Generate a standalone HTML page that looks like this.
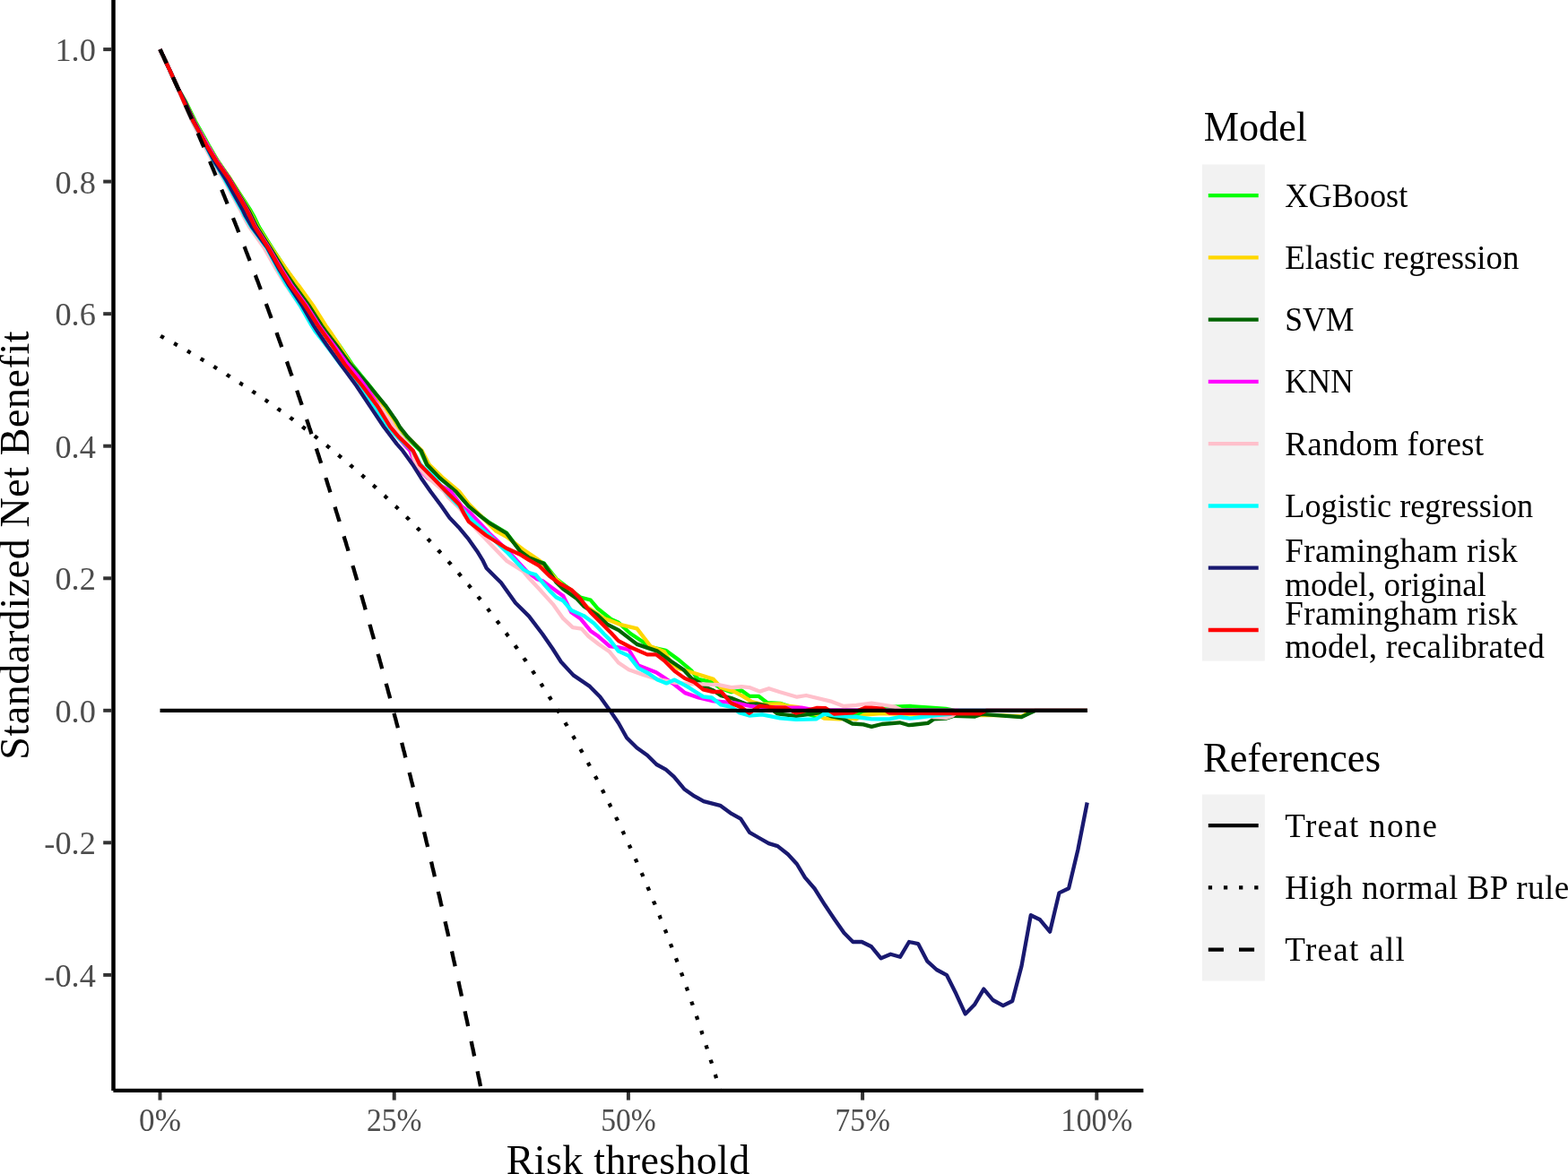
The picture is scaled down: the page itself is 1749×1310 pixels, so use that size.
<!DOCTYPE html>
<html><head><meta charset="utf-8"><title>Decision curve</title><style>html,body{margin:0;padding:0;background:#fff;overflow:hidden;}svg{display:block;}</style></head><body>
<svg width="1749" height="1310" viewBox="0 0 1749 1310">
<rect x="0" y="0" width="1749" height="1310" fill="#FFFFFF"/>
<defs><clipPath id="pc"><rect x="126.4" y="0" width="1149.0" height="1216.9"/></clipPath></defs>
<g clip-path="url(#pc)" fill="none" stroke-linejoin="round" stroke-linecap="butt">
<polyline points="178.5,55.1 188.9,77.4 199.4,100.3 207.5,114.0 207.5,114.1 217.9,135.5 228.9,155.0 232.7,162.1 243.3,180.0 256.7,199.5 257.6,201.0 267.7,216.6 279.6,235.0 283.0,241.0 288.7,253.0 303.4,276.6 303.6,277.0 319.5,301.1 331.1,317.5 333.1,320.0 348.0,340.5 362.7,363.4 367.4,370.0 379.0,386.3 392.7,406.5 403.6,420.0 412.3,430.5 429.9,453.4 440.4,470.0 444.1,476.3 453.5,487.6 468.9,502.9 475.9,518.2 487.3,530.0 490.7,533.4 508.7,548.2 522.7,564.3 537.7,576.9 545.8,583.1 564.9,594.5 572.5,604.5 580.2,614.4 590.0,621.7 606.8,628.6 620.5,645.9 647.3,666.5 658.7,669.5 666.3,678.7 681.6,690.9 690.0,694.7 702.9,706.7 725.8,722.0 742.6,725.8 756.3,735.7 771.6,748.7 778.6,757.9 792.9,760.8 804.3,768.2 815.8,772.2 827.2,770.5 835.8,776.8 846.1,776.8 855.9,784.2 870.1,784.8 880.0,788.0 895.0,795.0 907.9,798.9 920.0,797.0 940.0,796.0 956.5,797.2 975.0,794.0 985.0,790.0 997.9,788.6 1015.0,788.0 1037.9,789.7 1055.0,790.9 1065.0,792.8 1212.7,792.8" stroke="#00FF00" stroke-width="4.3"/>
<polyline points="178.5,55.1 188.9,77.4 199.4,100.3 206.9,114.0 206.9,114.1 217.0,135.5 227.8,155.0 231.8,162.1 242.8,180.0 256.7,199.5 257.6,201.0 267.0,216.6 278.1,235.0 281.2,241.0 287.2,253.0 302.7,276.6 302.9,277.0 319.8,301.1 332.0,317.5 334.1,320.0 348.9,340.5 363.4,363.4 368.1,370.0 378.8,386.3 391.3,406.5 401.5,420.0 410.5,430.5 428.9,453.4 440.0,470.0 444.2,476.3 454.2,487.6 470.6,502.9 478.6,518.2 490.8,530.0 494.2,533.4 512.5,548.7 522.9,562.2 553.4,592.7 564.9,598.9 584.0,613.4 590.0,617.6 601.5,625.3 620.0,646.0 640.0,664.0 654.9,677.2 674.0,690.2 680.0,692.2 691.5,696.8 710.5,701.4 725.8,721.2 741.1,727.3 748.7,739.5 756.3,745.6 771.6,750.2 781.4,753.3 795.8,757.9 804.3,767.1 818.7,771.6 827.2,776.2 838.7,783.1 850.1,786.0 870.1,785.4 876.4,787.4 890.7,789.2 910.7,797.2 919.3,801.7 936.5,802.3 947.9,801.7 955.0,802.3 963.6,797.7 983.6,796.0 1012.2,797.2 1045.0,797.5 1096.0,798.1 1113.6,798.1 1140.0,799.5 1150.0,792.8 1212.7,792.8" stroke="#FFD700" stroke-width="4.3"/>
<polyline points="178.5,55.1 188.9,77.4 199.4,100.3 206.4,114.0 206.4,114.1 216.5,135.5 227.3,155.0 231.3,162.1 242.3,180.0 256.2,199.5 257.1,201.0 266.4,216.6 277.4,235.0 280.4,241.0 286.3,253.0 301.4,276.6 301.6,277.0 316.5,301.1 327.4,317.5 329.3,320.0 344.2,340.5 358.8,363.4 363.5,370.0 376.0,386.3 390.7,406.5 402.4,420.0 411.7,430.5 430.7,453.4 442.2,470.0 445.8,476.3 454.7,487.6 469.7,502.9 476.2,518.2 487.3,530.0 490.7,533.4 508.7,548.7 522.7,564.8 537.7,577.4 545.8,583.6 564.9,595.0 572.5,605.0 580.2,614.9 590.0,622.2 606.8,629.1 620.5,649.7 628.2,657.3 643.4,668.0 651.1,676.4 666.3,686.3 677.8,697.0 690.0,703.1 710.5,718.9 733.4,726.6 748.7,738.0 762.4,747.2 771.6,757.1 778.6,760.8 787.2,767.1 795.8,770.5 804.3,776.2 815.8,779.1 833.0,786.0 844.4,785.4 855.9,787.7 867.0,796.3 887.9,798.9 905.0,796.6 916.5,794.9 927.9,799.5 939.3,801.7 950.8,807.5 963.0,808.4 972.2,810.9 983.6,808.0 1003.6,806.3 1013.9,809.2 1035.0,806.9 1041.9,802.3 1055.0,801.7 1064.2,798.8 1087.5,799.5 1095.1,796.8 1139.0,800.2 1147.9,796.1 1155.0,792.8 1212.7,792.8" stroke="#006400" stroke-width="4.3"/>
<polyline points="178.5,55.1 188.9,77.4 199.4,100.3 205.9,114.0 205.9,114.1 216.4,135.5 227.5,155.0 231.4,162.1 242.1,180.0 255.7,199.5 256.6,201.0 265.5,216.6 276.0,235.0 278.9,241.0 284.8,253.0 300.0,276.6 300.2,277.0 314.4,301.1 324.8,317.5 326.6,320.0 341.5,340.5 356.1,363.4 360.8,370.0 373.2,386.3 387.8,406.5 399.3,420.0 407.2,430.5 423.1,453.4 432.4,470.0 435.5,476.3 443.6,487.6 454.7,500.0 457.4,502.9 462.9,518.2 468.9,525.0 473.8,530.0 477.2,533.4 503.0,548.7 515.3,565.3 524.4,572.1 545.8,595.0 564.9,613.0 587.8,637.8 599.2,646.2 605.3,648.2 628.2,665.0 637.3,683.3 647.3,690.2 658.7,703.9 666.3,709.2 680.0,721.2 691.5,722.7 701.4,725.0 712.1,742.6 731.9,750.2 741.1,756.3 752.5,764.0 764.0,773.1 779.2,778.5 794.0,782.0 805.5,783.1 818.7,784.2 835.8,787.7 841.6,788.5 876.0,789.7 894.0,789.7 910.0,792.5 1212.7,792.8" stroke="#FF00FF" stroke-width="4.3"/>
<polyline points="178.5,55.1 188.9,77.4 199.4,100.3 204.9,114.0 204.9,114.1 214.2,135.5 224.3,155.0 227.7,162.1 237.1,180.0 249.3,199.5 250.1,201.0 258.6,216.6 268.6,235.0 271.4,241.0 278.0,253.0 294.6,276.6 294.8,277.0 308.5,301.1 318.6,317.5 320.4,320.0 334.4,340.5 348.0,363.4 352.4,370.0 365.3,386.3 380.5,406.5 392.5,420.0 402.3,430.5 414.9,445.0 422.7,453.4 435.8,470.0 439.1,476.3 447.6,487.6 454.5,495.0 460.1,502.9 461.1,510.0 464.2,518.2 474.6,530.0 478.0,533.4 495.7,548.7 500.0,555.0 511.5,566.0 530.5,589.7 545.8,605.7 564.9,625.6 584.0,637.8 590.0,645.0 601.5,657.3 616.7,674.1 628.2,690.2 638.9,700.1 648.8,701.6 656.4,710.0 668.0,719.0 680.0,727.3 689.9,739.5 701.4,747.2 718.2,753.3 733.4,757.9 752.5,761.7 771.6,763.2 787.2,763.6 801.5,764.2 815.8,767.1 827.2,766.2 835.8,767.1 847.3,771.6 857.6,768.2 870.1,772.3 889.0,777.7 899.3,776.0 927.9,782.9 941.0,788.0 955.0,786.9 972.2,784.6 997.9,788.6 1005.0,792.0 1030.0,797.0 1040.8,800.0 1055.3,800.9 1062.2,798.8 1070.0,792.8 1212.7,792.8" stroke="#FFC0CB" stroke-width="4.3"/>
<polyline points="178.5,55.1 188.9,77.4 199.4,100.3 205.4,114.0 205.4,114.1 215.2,135.5 225.8,155.0 229.1,162.1 238.4,180.0 250.3,199.5 251.1,201.0 259.8,216.6 270.1,235.0 272.9,241.0 280.0,253.0 297.7,276.6 297.9,277.0 310.4,301.1 319.5,317.5 321.2,320.0 334.6,340.5 347.7,363.4 351.9,370.0 364.6,386.3 379.7,406.5 391.5,420.0 400.2,430.5 417.9,453.4 428.4,470.0 432.8,476.3 443.3,487.6 460.3,502.9 469.0,518.2 481.6,530.0 485.0,533.4 500.0,552.0 519.1,572.1 526.7,580.5 545.8,597.3 564.9,615.6 584.0,635.5 590.0,639.0 597.6,641.3 612.9,658.9 620.5,666.5 628.2,670.3 637.3,681.0 651.1,687.1 662.5,695.5 674.0,707.7 680.0,713.6 689.9,726.6 701.4,731.9 712.1,745.6 722.7,751.0 733.4,758.6 743.4,762.4 752.5,758.6 764.0,764.7 770.0,768.2 784.3,777.4 794.0,778.5 804.3,786.5 815.8,788.8 824.4,795.1 835.8,798.5 850.1,797.4 870.1,801.4 887.9,802.9 910.7,802.3 919.3,796.6 930.7,798.3 945.0,799.5 955.0,800.0 972.2,802.3 992.2,802.3 1003.6,800.0 1015.0,801.7 1029.3,800.0 1045.0,798.1 1060.0,796.8 1070.0,792.8 1212.7,792.8" stroke="#00FFFF" stroke-width="4.3"/>
<polyline points="178.5,55.1 188.9,77.4 199.4,100.3 206.6,114.0 206.6,114.1 216.1,135.5 226.3,155.0 229.7,162.1 239.2,180.0 251.5,199.5 252.3,201.0 261.0,216.6 271.2,235.0 274.0,241.0 281.0,253.0 298.3,276.6 298.5,277.0 311.8,301.1 321.6,317.5 323.3,320.0 336.8,340.5 350.0,363.4 354.3,370.0 365.4,386.3 380.0,406.5 397.6,430.5 412.8,453.4 428.1,476.3 442.6,495.4 449.2,502.9 460.2,518.2 469.8,533.4 480.5,548.7 491.9,564.0 501.5,577.7 511.5,588.2 522.9,601.9 532.1,614.9 538.2,624.8 542.7,634.0 553.4,644.7 558.8,650.0 575.0,672.7 590.0,687.6 605.3,707.7 616.2,723.5 625.8,738.5 639.5,753.4 657.9,765.9 669.3,777.4 680.8,793.4 690.0,807.0 699.1,823.2 710.5,834.6 722.0,842.7 732.3,853.0 742.6,858.7 751.7,866.7 763.2,880.4 774.6,888.4 784.9,894.2 803.3,898.8 815.9,907.9 826.2,913.6 836.1,928.9 846.8,935.0 857.5,941.1 867.4,944.1 878.9,953.3 888.8,964.0 897.9,979.2 908.6,991.5 920.1,1009.8 930.8,1025.8 941.5,1041.1 951.4,1051.0 961.3,1051.0 972.0,1056.3 982.7,1069.3 993.4,1064.7 1004.0,1067.8 1014.0,1051.0 1024.1,1053.1 1034.4,1072.7 1044.7,1082.0 1056.1,1088.2 1066.4,1108.8 1076.7,1131.4 1087.0,1121.1 1097.3,1103.6 1107.6,1116.0 1118.9,1122.2 1129.2,1117.0 1139.5,1077.9 1149.8,1021.2 1160.1,1026.3 1171.1,1039.7 1181.4,996.4 1192.1,991.3 1202.4,948.0 1212.7,895.5" stroke="#191970" stroke-width="4.3"/>
<polyline points="178.5,55.1 188.9,77.4 199.4,100.3 205.4,114.1 215.5,135.5 230.3,162.1 241.3,180.0 255.2,199.5 265.0,216.6 275.5,235.0 284.2,253.0 299.2,276.6 313.2,301.1 323.3,317.5 340.0,340.5 354.7,363.4 371.0,386.3 384.6,406.5 404.0,430.5 421.2,453.4 435.3,476.3 444.9,487.6 460.7,502.9 468.1,518.2 483.2,533.4 497.9,548.7 512.4,563.1 518.3,574.4 522.9,582.1 542.0,597.3 564.9,611.8 580.2,618.7 590.0,624.9 601.5,631.4 612.9,642.8 624.4,651.2 637.3,658.1 647.3,668.0 658.7,683.3 670.2,694.7 681.6,706.2 689.9,715.1 702.9,722.0 722.0,730.4 731.9,730.4 741.1,737.3 752.5,748.7 764.0,757.1 773.9,760.9 784.3,769.3 795.8,772.2 804.3,771.6 815.8,784.8 827.2,789.4 835.8,795.7 847.3,787.7 865.0,789.7 876.0,789.7 887.9,795.7 899.0,793.0 910.7,790.0 921.0,790.2 930.7,796.6 950.8,795.4 965.0,789.7 972.2,789.7 985.0,791.0 992.2,795.7 1045.0,796.1 1093.0,796.4 1100.0,792.8 1212.7,792.8" stroke="#FF0000" stroke-width="4.3"/>
<line x1="178.5" y1="792.8" x2="1212.9" y2="792.8" stroke="#000" stroke-width="4.3"/>
<polyline points="178.5,374.5 179.0,374.8 179.5,375.1 180.1,375.4 180.6,375.7 181.1,375.9 181.6,376.2 182.2,376.5 182.7,376.8 183.2,377.1 183.7,377.4 184.2,377.7 184.8,377.9 185.3,378.2 185.8,378.5 186.3,378.8 186.9,379.1 187.4,379.4 187.9,379.7 188.4,380.0 188.9,380.2 189.5,380.5 190.0,380.8 190.5,381.1 191.0,381.4 191.6,381.7 192.1,382.0 192.6,382.3 193.1,382.6 193.6,382.9 194.2,383.2 194.7,383.4 195.2,383.7 195.7,384.0 196.3,384.3 196.8,384.6 197.3,384.9 197.8,385.2 198.4,385.5 198.9,385.8 199.4,386.1 199.9,386.4 200.4,386.7 201.0,387.0 201.5,387.3 202.0,387.6 202.5,387.9 203.1,388.2 203.6,388.5 204.1,388.8 204.6,389.1 205.1,389.3 205.7,389.6 206.2,389.9 206.7,390.2 207.2,390.5 207.8,390.8 208.3,391.1 208.8,391.4 209.3,391.7 209.8,392.0 210.4,392.3 210.9,392.6 211.4,393.0 211.9,393.3 212.5,393.6 213.0,393.9 213.5,394.2 214.0,394.5 214.5,394.8 215.1,395.1 215.6,395.4 216.1,395.7 216.6,396.0 217.2,396.3 217.7,396.6 218.2,396.9 218.7,397.2 219.2,397.5 219.8,397.8 220.3,398.1 220.8,398.4 221.3,398.7 221.9,399.1 222.4,399.4 222.9,399.7 223.4,400.0 223.9,400.3 224.5,400.6 225.0,400.9 225.5,401.2 226.0,401.5 226.6,401.8 227.1,402.2 227.6,402.5 228.1,402.8 228.7,403.1 229.2,403.4 229.7,403.7 230.2,404.0 230.7,404.3 231.3,404.7 231.8,405.0 232.3,405.3 232.8,405.6 233.4,405.9 233.9,406.2 234.4,406.5 234.9,406.9 235.4,407.2 236.0,407.5 236.5,407.8 237.0,408.1 237.5,408.5 238.1,408.8 238.6,409.1 239.1,409.4 239.6,409.7 240.1,410.0 240.7,410.4 241.2,410.7 241.7,411.0 242.2,411.3 242.8,411.7 243.3,412.0 243.8,412.3 244.3,412.6 244.8,412.9 245.4,413.3 245.9,413.6 246.4,413.9 246.9,414.2 247.5,414.6 248.0,414.9 248.5,415.2 249.0,415.5 249.5,415.9 250.1,416.2 250.6,416.5 251.1,416.8 251.6,417.2 252.2,417.5 252.7,417.8 253.2,418.2 253.7,418.5 254.2,418.8 254.8,419.1 255.3,419.5 255.8,419.8 256.3,420.1 256.9,420.5 257.4,420.8 257.9,421.1 258.4,421.5 258.9,421.8 259.5,422.1 260.0,422.5 260.5,422.8 261.0,423.1 261.6,423.5 262.1,423.8 262.6,424.1 263.1,424.5 263.7,424.8 264.2,425.1 264.7,425.5 265.2,425.8 265.7,426.1 266.3,426.5 266.8,426.8 267.3,427.2 267.8,427.5 268.4,427.8 268.9,428.2 269.4,428.5 269.9,428.9 270.4,429.2 271.0,429.5 271.5,429.9 272.0,430.2 272.5,430.6 273.1,430.9 273.6,431.2 274.1,431.6 274.6,431.9 275.1,432.3 275.7,432.6 276.2,433.0 276.7,433.3 277.2,433.7 277.8,434.0 278.3,434.3 278.8,434.7 279.3,435.0 279.8,435.4 280.4,435.7 280.9,436.1 281.4,436.4 281.9,436.8 282.5,437.1 283.0,437.5 283.5,437.8 284.0,438.2 284.5,438.5 285.1,438.9 285.6,439.2 286.1,439.6 286.6,439.9 287.2,440.3 287.7,440.6 288.2,441.0 288.7,441.3 289.2,441.7 289.8,442.1 290.3,442.4 290.8,442.8 291.3,443.1 291.9,443.5 292.4,443.8 292.9,444.2 293.4,444.5 294.0,444.9 294.5,445.3 295.0,445.6 295.5,446.0 296.0,446.3 296.6,446.7 297.1,447.1 297.6,447.4 298.1,447.8 298.7,448.1 299.2,448.5 299.7,448.9 300.2,449.2 300.7,449.6 301.3,450.0 301.8,450.3 302.3,450.7 302.8,451.1 303.4,451.4 303.9,451.8 304.4,452.1 304.9,452.5 305.4,452.9 306.0,453.2 306.5,453.6 307.0,454.0 307.5,454.4 308.1,454.7 308.6,455.1 309.1,455.5 309.6,455.8 310.1,456.2 310.7,456.6 311.2,456.9 311.7,457.3 312.2,457.7 312.8,458.1 313.3,458.4 313.8,458.8 314.3,459.2 314.8,459.6 315.4,459.9 315.9,460.3 316.4,460.7 316.9,461.1 317.5,461.4 318.0,461.8 318.5,462.2 319.0,462.6 319.5,462.9 320.1,463.3 320.6,463.7 321.1,464.1 321.6,464.5 322.2,464.8 322.7,465.2 323.2,465.6 323.7,466.0 324.2,466.4 324.8,466.8 325.3,467.1 325.8,467.5 326.3,467.9 326.9,468.3 327.4,468.7 327.9,469.1 328.4,469.4 329.0,469.8 329.5,470.2 330.0,470.6 330.5,471.0 331.0,471.4 331.6,471.8 332.1,472.2 332.6,472.5 333.1,472.9 333.7,473.3 334.2,473.7 334.7,474.1 335.2,474.5 335.7,474.9 336.3,475.3 336.8,475.7 337.3,476.1 337.8,476.5 338.4,476.9 338.9,477.3 339.4,477.7 339.9,478.1 340.4,478.4 341.0,478.8 341.5,479.2 342.0,479.6 342.5,480.0 343.1,480.4 343.6,480.8 344.1,481.2 344.6,481.6 345.1,482.0 345.7,482.4 346.2,482.8 346.7,483.2 347.2,483.6 347.8,484.0 348.3,484.5 348.8,484.9 349.3,485.3 349.8,485.7 350.4,486.1 350.9,486.5 351.4,486.9 351.9,487.3 352.5,487.7 353.0,488.1 353.5,488.5 354.0,488.9 354.5,489.3 355.1,489.7 355.6,490.2 356.1,490.6 356.6,491.0 357.2,491.4 357.7,491.8 358.2,492.2 358.7,492.6 359.3,493.0 359.8,493.5 360.3,493.9 360.8,494.3 361.3,494.7 361.9,495.1 362.4,495.5 362.9,496.0 363.4,496.4 364.0,496.8 364.5,497.2 365.0,497.6 365.5,498.0 366.0,498.5 366.6,498.9 367.1,499.3 367.6,499.7 368.1,500.2 368.7,500.6 369.2,501.0 369.7,501.4 370.2,501.9 370.7,502.3 371.3,502.7 371.8,503.1 372.3,503.6 372.8,504.0 373.4,504.4 373.9,504.8 374.4,505.3 374.9,505.7 375.4,506.1 376.0,506.6 376.5,507.0 377.0,507.4 377.5,507.9 378.1,508.3 378.6,508.7 379.1,509.2 379.6,509.6 380.1,510.0 380.7,510.5 381.2,510.9 381.7,511.3 382.2,511.8 382.8,512.2 383.3,512.6 383.8,513.1 384.3,513.5 384.8,514.0 385.4,514.4 385.9,514.8 386.4,515.3 386.9,515.7 387.5,516.2 388.0,516.6 388.5,517.0 389.0,517.5 389.5,517.9 390.1,518.4 390.6,518.8 391.1,519.3 391.6,519.7 392.2,520.2 392.7,520.6 393.2,521.1 393.7,521.5 394.3,522.0 394.8,522.4 395.3,522.9 395.8,523.3 396.3,523.8 396.9,524.2 397.4,524.7 397.9,525.1 398.4,525.6 399.0,526.0 399.5,526.5 400.0,526.9 400.5,527.4 401.0,527.9 401.6,528.3 402.1,528.8 402.6,529.2 403.1,529.7 403.7,530.2 404.2,530.6 404.7,531.1 405.2,531.5 405.7,532.0 406.3,532.5 406.8,532.9 407.3,533.4 407.8,533.9 408.4,534.3 408.9,534.8 409.4,535.3 409.9,535.7 410.4,536.2 411.0,536.7 411.5,537.1 412.0,537.6 412.5,538.1 413.1,538.5 413.6,539.0 414.1,539.5 414.6,540.0 415.1,540.4 415.7,540.9 416.2,541.4 416.7,541.8 417.2,542.3 417.8,542.8 418.3,543.3 418.8,543.8 419.3,544.2 419.8,544.7 420.4,545.2 420.9,545.7 421.4,546.2 421.9,546.6 422.5,547.1 423.0,547.6 423.5,548.1 424.0,548.6 424.6,549.0 425.1,549.5 425.6,550.0 426.1,550.5 426.6,551.0 427.2,551.5 427.7,552.0 428.2,552.5 428.7,552.9 429.3,553.4 429.8,553.9 430.3,554.4 430.8,554.9 431.3,555.4 431.9,555.9 432.4,556.4 432.9,556.9 433.4,557.4 434.0,557.9 434.5,558.4 435.0,558.9 435.5,559.4 436.0,559.9 436.6,560.4 437.1,560.9 437.6,561.4 438.1,561.9 438.7,562.4 439.2,562.9 439.7,563.4 440.2,563.9 440.7,564.4 441.3,564.9 441.8,565.4 442.3,565.9 442.8,566.4 443.4,566.9 443.9,567.4 444.4,567.9 444.9,568.4 445.4,569.0 446.0,569.5 446.5,570.0 447.0,570.5 447.5,571.0 448.1,571.5 448.6,572.0 449.1,572.6 449.6,573.1 450.1,573.6 450.7,574.1 451.2,574.6 451.7,575.1 452.2,575.7 452.8,576.2 453.3,576.7 453.8,577.2 454.3,577.7 454.8,578.3 455.4,578.8 455.9,579.3 456.4,579.8 456.9,580.4 457.5,580.9 458.0,581.4 458.5,582.0 459.0,582.5 459.6,583.0 460.1,583.5 460.6,584.1 461.1,584.6 461.6,585.1 462.2,585.7 462.7,586.2 463.2,586.7 463.7,587.3 464.3,587.8 464.8,588.3 465.3,588.9 465.8,589.4 466.3,590.0 466.9,590.5 467.4,591.0 467.9,591.6 468.4,592.1 469.0,592.7 469.5,593.2 470.0,593.8 470.5,594.3 471.0,594.9 471.6,595.4 472.1,595.9 472.6,596.5 473.1,597.0 473.7,597.6 474.2,598.1 474.7,598.7 475.2,599.2 475.7,599.8 476.3,600.4 476.8,600.9 477.3,601.5 477.8,602.0 478.4,602.6 478.9,603.1 479.4,603.7 479.9,604.3 480.4,604.8 481.0,605.4 481.5,605.9 482.0,606.5 482.5,607.1 483.1,607.6 483.6,608.2 484.1,608.8 484.6,609.3 485.1,609.9 485.7,610.5 486.2,611.0 486.7,611.6 487.2,612.2 487.8,612.7 488.3,613.3 488.8,613.9 489.3,614.5 489.9,615.0 490.4,615.6 490.9,616.2 491.4,616.8 491.9,617.3 492.5,617.9 493.0,618.5 493.5,619.1 494.0,619.7 494.6,620.2 495.1,620.8 495.6,621.4 496.1,622.0 496.6,622.6 497.2,623.2 497.7,623.7 498.2,624.3 498.7,624.9 499.3,625.5 499.8,626.1 500.3,626.7 500.8,627.3 501.3,627.9 501.9,628.5 502.4,629.1 502.9,629.7 503.4,630.3 504.0,630.9 504.5,631.4 505.0,632.0 505.5,632.6 506.0,633.2 506.6,633.9 507.1,634.5 507.6,635.1 508.1,635.7 508.7,636.3 509.2,636.9 509.7,637.5 510.2,638.1 510.7,638.7 511.3,639.3 511.8,639.9 512.3,640.5 512.8,641.1 513.4,641.8 513.9,642.4 514.4,643.0 514.9,643.6 515.4,644.2 516.0,644.8 516.5,645.4 517.0,646.1 517.5,646.7 518.1,647.3 518.6,647.9 519.1,648.6 519.6,649.2 520.1,649.8 520.7,650.4 521.2,651.1 521.7,651.7 522.2,652.3 522.8,652.9 523.3,653.6 523.8,654.2 524.3,654.8 524.9,655.5 525.4,656.1 525.9,656.7 526.4,657.4 526.9,658.0 527.5,658.7 528.0,659.3 528.5,659.9 529.0,660.6 529.6,661.2 530.1,661.9 530.6,662.5 531.1,663.1 531.6,663.8 532.2,664.4 532.7,665.1 533.2,665.7 533.7,666.4 534.3,667.0 534.8,667.7 535.3,668.3 535.8,669.0 536.3,669.6 536.9,670.3 537.4,671.0 537.9,671.6 538.4,672.3 539.0,672.9 539.5,673.6 540.0,674.3 540.5,674.9 541.0,675.6 541.6,676.3 542.1,676.9 542.6,677.6 543.1,678.3 543.7,678.9 544.2,679.6 544.7,680.3 545.2,680.9 545.7,681.6 546.3,682.3 546.8,683.0 547.3,683.6 547.8,684.3 548.4,685.0 548.9,685.7 549.4,686.3 549.9,687.0 550.4,687.7 551.0,688.4 551.5,689.1 552.0,689.8 552.5,690.5 553.1,691.1 553.6,691.8 554.1,692.5 554.6,693.2 555.2,693.9 555.7,694.6 556.2,695.3 556.7,696.0 557.2,696.7 557.8,697.4 558.3,698.1 558.8,698.8 559.3,699.5 559.9,700.2 560.4,700.9 560.9,701.6 561.4,702.3 561.9,703.0 562.5,703.7 563.0,704.4 563.5,705.1 564.0,705.8 564.6,706.5 565.1,707.3 565.6,708.0 566.1,708.7 566.6,709.4 567.2,710.1 567.7,710.8 568.2,711.6 568.7,712.3 569.3,713.0 569.8,713.7 570.3,714.5 570.8,715.2 571.3,715.9 571.9,716.6 572.4,717.4 572.9,718.1 573.4,718.8 574.0,719.6 574.5,720.3 575.0,721.0 575.5,721.8 576.0,722.5 576.6,723.2 577.1,724.0 577.6,724.7 578.1,725.5 578.7,726.2 579.2,727.0 579.7,727.7 580.2,728.4 580.7,729.2 581.3,729.9 581.8,730.7 582.3,731.4 582.8,732.2 583.4,733.0 583.9,733.7 584.4,734.5 584.9,735.2 585.4,736.0 586.0,736.7 586.5,737.5 587.0,738.3 587.5,739.0 588.1,739.8 588.6,740.6 589.1,741.3 589.6,742.1 590.2,742.9 590.7,743.6 591.2,744.4 591.7,745.2 592.2,746.0 592.8,746.8 593.3,747.5 593.8,748.3 594.3,749.1 594.9,749.9 595.4,750.7 595.9,751.4 596.4,752.2 596.9,753.0 597.5,753.8 598.0,754.6 598.5,755.4 599.0,756.2 599.6,757.0 600.1,757.8 600.6,758.6 601.1,759.4 601.6,760.2 602.2,761.0 602.7,761.8 603.2,762.6 603.7,763.4 604.3,764.2 604.8,765.0 605.3,765.8 605.8,766.6 606.3,767.4 606.9,768.2 607.4,769.0 607.9,769.9 608.4,770.7 609.0,771.5 609.5,772.3 610.0,773.1 610.5,774.0 611.0,774.8 611.6,775.6 612.1,776.4 612.6,777.3 613.1,778.1 613.7,778.9 614.2,779.8 614.7,780.6 615.2,781.4 615.7,782.3 616.3,783.1 616.8,783.9 617.3,784.8 617.8,785.6 618.4,786.5 618.9,787.3 619.4,788.2 619.9,789.0 620.5,789.9 621.0,790.7 621.5,791.6 622.0,792.4 622.5,793.3 623.1,794.1 623.6,795.0 624.1,795.9 624.6,796.7 625.2,797.6 625.7,798.4 626.2,799.3 626.7,800.2 627.2,801.1 627.8,801.9 628.3,802.8 628.8,803.7 629.3,804.5 629.9,805.4 630.4,806.3 630.9,807.2 631.4,808.1 631.9,808.9 632.5,809.8 633.0,810.7 633.5,811.6 634.0,812.5 634.6,813.4 635.1,814.3 635.6,815.2 636.1,816.1 636.6,817.0 637.2,817.9 637.7,818.8 638.2,819.7 638.7,820.6 639.3,821.5 639.8,822.4 640.3,823.3 640.8,824.2 641.3,825.1 641.9,826.0 642.4,827.0 642.9,827.9 643.4,828.8 644.0,829.7 644.5,830.6 645.0,831.6 645.5,832.5 646.0,833.4 646.6,834.3 647.1,835.3 647.6,836.2 648.1,837.1 648.7,838.1 649.2,839.0 649.7,839.9 650.2,840.9 650.7,841.8 651.3,842.8 651.8,843.7 652.3,844.7 652.8,845.6 653.4,846.6 653.9,847.5 654.4,848.5 654.9,849.4 655.5,850.4 656.0,851.3 656.5,852.3 657.0,853.3 657.5,854.2 658.1,855.2 658.6,856.2 659.1,857.1 659.6,858.1 660.2,859.1 660.7,860.1 661.2,861.0 661.7,862.0 662.2,863.0 662.8,864.0 663.3,865.0 663.8,866.0 664.3,866.9 664.9,867.9 665.4,868.9 665.9,869.9 666.4,870.9 666.9,871.9 667.5,872.9 668.0,873.9 668.5,874.9 669.0,875.9 669.6,876.9 670.1,877.9 670.6,879.0 671.1,880.0 671.6,881.0 672.2,882.0 672.7,883.0 673.2,884.0 673.7,885.1 674.3,886.1 674.8,887.1 675.3,888.1 675.8,889.2 676.3,890.2 676.9,891.2 677.4,892.3 677.9,893.3 678.4,894.4 679.0,895.4 679.5,896.5 680.0,897.5 680.5,898.5 681.0,899.6 681.6,900.6 682.1,901.7 682.6,902.8 683.1,903.8 683.7,904.9 684.2,905.9 684.7,907.0 685.2,908.1 685.8,909.1 686.3,910.2 686.8,911.3 687.3,912.4 687.8,913.4 688.4,914.5 688.9,915.6 689.4,916.7 689.9,917.8 690.5,918.9 691.0,920.0 691.5,921.0 692.0,922.1 692.5,923.2 693.1,924.3 693.6,925.4 694.1,926.5 694.6,927.6 695.2,928.7 695.7,929.9 696.2,931.0 696.7,932.1 697.2,933.2 697.8,934.3 698.3,935.4 698.8,936.6 699.3,937.7 699.9,938.8 700.4,939.9 700.9,941.1 701.4,942.2 701.9,943.3 702.5,944.5 703.0,945.6 703.5,946.8 704.0,947.9 704.6,949.1 705.1,950.2 705.6,951.4 706.1,952.5 706.6,953.7 707.2,954.8 707.7,956.0 708.2,957.2 708.7,958.3 709.3,959.5 709.8,960.7 710.3,961.8 710.8,963.0 711.3,964.2 711.9,965.4 712.4,966.6 712.9,967.8 713.4,968.9 714.0,970.1 714.5,971.3 715.0,972.5 715.5,973.7 716.0,974.9 716.6,976.1 717.1,977.3 717.6,978.5 718.1,979.7 718.7,981.0 719.2,982.2 719.7,983.4 720.2,984.6 720.8,985.8 721.3,987.1 721.8,988.3 722.3,989.5 722.8,990.8 723.4,992.0 723.9,993.2 724.4,994.5 724.9,995.7 725.5,997.0 726.0,998.2 726.5,999.5 727.0,1000.7 727.5,1002.0 728.1,1003.2 728.6,1004.5 729.1,1005.8 729.6,1007.0 730.2,1008.3 730.7,1009.6 731.2,1010.8 731.7,1012.1 732.2,1013.4 732.8,1014.7 733.3,1016.0 733.8,1017.3 734.3,1018.6 734.9,1019.8 735.4,1021.1 735.9,1022.4 736.4,1023.8 736.9,1025.1 737.5,1026.4 738.0,1027.7 738.5,1029.0 739.0,1030.3 739.6,1031.6 740.1,1033.0 740.6,1034.3 741.1,1035.6 741.6,1036.9 742.2,1038.3 742.7,1039.6 743.2,1040.9 743.7,1042.3 744.3,1043.6 744.8,1045.0 745.3,1046.3 745.8,1047.7 746.3,1049.1 746.9,1050.4 747.4,1051.8 747.9,1053.1 748.4,1054.5 749.0,1055.9 749.5,1057.3 750.0,1058.6 750.5,1060.0 751.1,1061.4 751.6,1062.8 752.1,1064.2 752.6,1065.6 753.1,1067.0 753.7,1068.4 754.2,1069.8 754.7,1071.2 755.2,1072.6 755.8,1074.0 756.3,1075.4 756.8,1076.8 757.3,1078.3 757.8,1079.7 758.4,1081.1 758.9,1082.6 759.4,1084.0 759.9,1085.4 760.5,1086.9 761.0,1088.3 761.5,1089.8 762.0,1091.2 762.5,1092.7 763.1,1094.1 763.6,1095.6 764.1,1097.1 764.6,1098.5 765.2,1100.0 765.7,1101.5 766.2,1103.0 766.7,1104.4 767.2,1105.9 767.8,1107.4 768.3,1108.9 768.8,1110.4 769.3,1111.9 769.9,1113.4 770.4,1114.9 770.9,1116.4 771.4,1117.9 771.9,1119.4 772.5,1121.0 773.0,1122.5 773.5,1124.0 774.0,1125.5 774.6,1127.1 775.1,1128.6 775.6,1130.1 776.1,1131.7 776.6,1133.2 777.2,1134.8 777.7,1136.3 778.2,1137.9 778.7,1139.5 779.3,1141.0 779.8,1142.6 780.3,1144.2 780.8,1145.8 781.3,1147.3 781.9,1148.9 782.4,1150.5 782.9,1152.1 783.4,1153.7 784.0,1155.3 784.5,1156.9 785.0,1158.5 785.5,1160.1 786.1,1161.7 786.6,1163.4 787.1,1165.0 787.6,1166.6 788.1,1168.2 788.7,1169.9 789.2,1171.5 789.7,1173.2 790.2,1174.8 790.8,1176.5 791.3,1178.1 791.8,1179.8 792.3,1181.4 792.8,1183.1 793.4,1184.8 793.9,1186.4 794.4,1188.1 794.9,1189.8 795.5,1191.5 796.0,1193.2 796.5,1194.9 797.0,1196.6 797.5,1198.3 798.1,1200.0 798.6,1201.7 799.1,1203.4 799.6,1205.1 800.2,1206.9 800.7,1208.6 801.2,1210.3 801.7,1212.1 802.2,1213.8 802.8,1215.6 803.3,1217.3 803.8,1219.1 804.3,1220.8 804.9,1222.6 805.4,1224.4 805.9,1226.1 806.4,1227.9 806.9,1229.7 807.5,1231.5 808.0,1233.3 808.5,1235.1 809.0,1236.9 809.6,1238.7 810.1,1240.5 810.6,1242.3 811.1,1244.1 811.6,1245.9 812.2,1247.8 812.7,1249.6 813.2,1251.4" stroke="#000" stroke-width="4.3" stroke-dasharray="4.28 12.84" stroke-dashoffset="-0.73"/>
<polyline points="178.5,55.1 179.0,56.2 179.5,57.3 180.1,58.4 180.6,59.6 181.1,60.7 181.6,61.8 182.2,62.9 182.7,64.0 183.2,65.2 183.7,66.3 184.2,67.4 184.8,68.5 185.3,69.7 185.8,70.8 186.3,71.9 186.9,73.0 187.4,74.2 187.9,75.3 188.4,76.4 188.9,77.6 189.5,78.7 190.0,79.8 190.5,81.0 191.0,82.1 191.6,83.3 192.1,84.4 192.6,85.5 193.1,86.7 193.6,87.8 194.2,89.0 194.7,90.1 195.2,91.3 195.7,92.4 196.3,93.6 196.8,94.7 197.3,95.9 197.8,97.0 198.4,98.2 198.9,99.3 199.4,100.5 199.9,101.6 200.4,102.8 201.0,104.0 201.5,105.1 202.0,106.3 202.5,107.5 203.1,108.6 203.6,109.8 204.1,111.0 204.6,112.1 205.1,113.3 205.7,114.5 206.2,115.6 206.7,116.8 207.2,118.0 207.8,119.2 208.3,120.3 208.8,121.5 209.3,122.7 209.8,123.9 210.4,125.1 210.9,126.3 211.4,127.4 211.9,128.6 212.5,129.8 213.0,131.0 213.5,132.2 214.0,133.4 214.5,134.6 215.1,135.8 215.6,137.0 216.1,138.2 216.6,139.4 217.2,140.6 217.7,141.8 218.2,143.0 218.7,144.2 219.2,145.4 219.8,146.6 220.3,147.8 220.8,149.0 221.3,150.2 221.9,151.4 222.4,152.6 222.9,153.8 223.4,155.0 223.9,156.3 224.5,157.5 225.0,158.7 225.5,159.9 226.0,161.1 226.6,162.3 227.1,163.6 227.6,164.8 228.1,166.0 228.7,167.2 229.2,168.5 229.7,169.7 230.2,170.9 230.7,172.2 231.3,173.4 231.8,174.6 232.3,175.9 232.8,177.1 233.4,178.3 233.9,179.6 234.4,180.8 234.9,182.1 235.4,183.3 236.0,184.5 236.5,185.8 237.0,187.0 237.5,188.3 238.1,189.5 238.6,190.8 239.1,192.0 239.6,193.3 240.1,194.6 240.7,195.8 241.2,197.1 241.7,198.3 242.2,199.6 242.8,200.8 243.3,202.1 243.8,203.4 244.3,204.6 244.8,205.9 245.4,207.2 245.9,208.4 246.4,209.7 246.9,211.0 247.5,212.3 248.0,213.5 248.5,214.8 249.0,216.1 249.5,217.4 250.1,218.7 250.6,219.9 251.1,221.2 251.6,222.5 252.2,223.8 252.7,225.1 253.2,226.4 253.7,227.7 254.2,229.0 254.8,230.3 255.3,231.5 255.8,232.8 256.3,234.1 256.9,235.4 257.4,236.7 257.9,238.0 258.4,239.3 258.9,240.6 259.5,242.0 260.0,243.3 260.5,244.6 261.0,245.9 261.6,247.2 262.1,248.5 262.6,249.8 263.1,251.1 263.7,252.5 264.2,253.8 264.7,255.1 265.2,256.4 265.7,257.7 266.3,259.1 266.8,260.4 267.3,261.7 267.8,263.0 268.4,264.4 268.9,265.7 269.4,267.0 269.9,268.4 270.4,269.7 271.0,271.1 271.5,272.4 272.0,273.7 272.5,275.1 273.1,276.4 273.6,277.8 274.1,279.1 274.6,280.5 275.1,281.8 275.7,283.2 276.2,284.5 276.7,285.9 277.2,287.2 277.8,288.6 278.3,289.9 278.8,291.3 279.3,292.7 279.8,294.0 280.4,295.4 280.9,296.7 281.4,298.1 281.9,299.5 282.5,300.9 283.0,302.2 283.5,303.6 284.0,305.0 284.5,306.4 285.1,307.7 285.6,309.1 286.1,310.5 286.6,311.9 287.2,313.3 287.7,314.6 288.2,316.0 288.7,317.4 289.2,318.8 289.8,320.2 290.3,321.6 290.8,323.0 291.3,324.4 291.9,325.8 292.4,327.2 292.9,328.6 293.4,330.0 294.0,331.4 294.5,332.8 295.0,334.2 295.5,335.6 296.0,337.0 296.6,338.4 297.1,339.9 297.6,341.3 298.1,342.7 298.7,344.1 299.2,345.5 299.7,347.0 300.2,348.4 300.7,349.8 301.3,351.2 301.8,352.7 302.3,354.1 302.8,355.5 303.4,357.0 303.9,358.4 304.4,359.8 304.9,361.3 305.4,362.7 306.0,364.2 306.5,365.6 307.0,367.0 307.5,368.5 308.1,369.9 308.6,371.4 309.1,372.8 309.6,374.3 310.1,375.7 310.7,377.2 311.2,378.7 311.7,380.1 312.2,381.6 312.8,383.0 313.3,384.5 313.8,386.0 314.3,387.4 314.8,388.9 315.4,390.4 315.9,391.9 316.4,393.3 316.9,394.8 317.5,396.3 318.0,397.8 318.5,399.3 319.0,400.7 319.5,402.2 320.1,403.7 320.6,405.2 321.1,406.7 321.6,408.2 322.2,409.7 322.7,411.2 323.2,412.7 323.7,414.2 324.2,415.7 324.8,417.2 325.3,418.7 325.8,420.2 326.3,421.7 326.9,423.2 327.4,424.7 327.9,426.2 328.4,427.7 329.0,429.3 329.5,430.8 330.0,432.3 330.5,433.8 331.0,435.3 331.6,436.9 332.1,438.4 332.6,439.9 333.1,441.5 333.7,443.0 334.2,444.5 334.7,446.1 335.2,447.6 335.7,449.1 336.3,450.7 336.8,452.2 337.3,453.8 337.8,455.3 338.4,456.9 338.9,458.4 339.4,460.0 339.9,461.5 340.4,463.1 341.0,464.6 341.5,466.2 342.0,467.8 342.5,469.3 343.1,470.9 343.6,472.5 344.1,474.0 344.6,475.6 345.1,477.2 345.7,478.8 346.2,480.3 346.7,481.9 347.2,483.5 347.8,485.1 348.3,486.7 348.8,488.2 349.3,489.8 349.8,491.4 350.4,493.0 350.9,494.6 351.4,496.2 351.9,497.8 352.5,499.4 353.0,501.0 353.5,502.6 354.0,504.2 354.5,505.8 355.1,507.4 355.6,509.0 356.1,510.7 356.6,512.3 357.2,513.9 357.7,515.5 358.2,517.1 358.7,518.7 359.3,520.4 359.8,522.0 360.3,523.6 360.8,525.3 361.3,526.9 361.9,528.5 362.4,530.2 362.9,531.8 363.4,533.4 364.0,535.1 364.5,536.7 365.0,538.4 365.5,540.0 366.0,541.7 366.6,543.3 367.1,545.0 367.6,546.6 368.1,548.3 368.7,550.0 369.2,551.6 369.7,553.3 370.2,555.0 370.7,556.6 371.3,558.3 371.8,560.0 372.3,561.6 372.8,563.3 373.4,565.0 373.9,566.7 374.4,568.4 374.9,570.1 375.4,571.7 376.0,573.4 376.5,575.1 377.0,576.8 377.5,578.5 378.1,580.2 378.6,581.9 379.1,583.6 379.6,585.3 380.1,587.0 380.7,588.7 381.2,590.4 381.7,592.2 382.2,593.9 382.8,595.6 383.3,597.3 383.8,599.0 384.3,600.8 384.8,602.5 385.4,604.2 385.9,605.9 386.4,607.7 386.9,609.4 387.5,611.1 388.0,612.9 388.5,614.6 389.0,616.4 389.5,618.1 390.1,619.9 390.6,621.6 391.1,623.4 391.6,625.1 392.2,626.9 392.7,628.6 393.2,630.4 393.7,632.2 394.3,633.9 394.8,635.7 395.3,637.5 395.8,639.2 396.3,641.0 396.9,642.8 397.4,644.6 397.9,646.3 398.4,648.1 399.0,649.9 399.5,651.7 400.0,653.5 400.5,655.3 401.0,657.1 401.6,658.9 402.1,660.7 402.6,662.5 403.1,664.3 403.7,666.1 404.2,667.9 404.7,669.7 405.2,671.5 405.7,673.3 406.3,675.1 406.8,677.0 407.3,678.8 407.8,680.6 408.4,682.4 408.9,684.3 409.4,686.1 409.9,687.9 410.4,689.8 411.0,691.6 411.5,693.4 412.0,695.3 412.5,697.1 413.1,699.0 413.6,700.8 414.1,702.7 414.6,704.5 415.1,706.4 415.7,708.3 416.2,710.1 416.7,712.0 417.2,713.8 417.8,715.7 418.3,717.6 418.8,719.5 419.3,721.3 419.8,723.2 420.4,725.1 420.9,727.0 421.4,728.9 421.9,730.8 422.5,732.7 423.0,734.5 423.5,736.4 424.0,738.3 424.6,740.2 425.1,742.1 425.6,744.1 426.1,746.0 426.6,747.9 427.2,749.8 427.7,751.7 428.2,753.6 428.7,755.5 429.3,757.5 429.8,759.4 430.3,761.3 430.8,763.3 431.3,765.2 431.9,767.1 432.4,769.1 432.9,771.0 433.4,773.0 434.0,774.9 434.5,776.8 435.0,778.8 435.5,780.8 436.0,782.7 436.6,784.7 437.1,786.6 437.6,788.6 438.1,790.6 438.7,792.5 439.2,794.5 439.7,796.5 440.2,798.5 440.7,800.4 441.3,802.4 441.8,804.4 442.3,806.4 442.8,808.4 443.4,810.4 443.9,812.4 444.4,814.4 444.9,816.4 445.4,818.4 446.0,820.4 446.5,822.4 447.0,824.4 447.5,826.4 448.1,828.5 448.6,830.5 449.1,832.5 449.6,834.5 450.1,836.6 450.7,838.6 451.2,840.6 451.7,842.7 452.2,844.7 452.8,846.8 453.3,848.8 453.8,850.8 454.3,852.9 454.8,855.0 455.4,857.0 455.9,859.1 456.4,861.1 456.9,863.2 457.5,865.3 458.0,867.3 458.5,869.4 459.0,871.5 459.6,873.6 460.1,875.7 460.6,877.7 461.1,879.8 461.6,881.9 462.2,884.0 462.7,886.1 463.2,888.2 463.7,890.3 464.3,892.4 464.8,894.5 465.3,896.6 465.8,898.7 466.3,900.9 466.9,903.0 467.4,905.1 467.9,907.2 468.4,909.4 469.0,911.5 469.5,913.6 470.0,915.8 470.5,917.9 471.0,920.1 471.6,922.2 472.1,924.3 472.6,926.5 473.1,928.7 473.7,930.8 474.2,933.0 474.7,935.1 475.2,937.3 475.7,939.5 476.3,941.7 476.8,943.8 477.3,946.0 477.8,948.2 478.4,950.4 478.9,952.6 479.4,954.8 479.9,957.0 480.4,959.2 481.0,961.4 481.5,963.6 482.0,965.8 482.5,968.0 483.1,970.2 483.6,972.4 484.1,974.6 484.6,976.9 485.1,979.1 485.7,981.3 486.2,983.5 486.7,985.8 487.2,988.0 487.8,990.3 488.3,992.5 488.8,994.8 489.3,997.0 489.9,999.3 490.4,1001.5 490.9,1003.8 491.4,1006.0 491.9,1008.3 492.5,1010.6 493.0,1012.9 493.5,1015.1 494.0,1017.4 494.6,1019.7 495.1,1022.0 495.6,1024.3 496.1,1026.6 496.6,1028.9 497.2,1031.2 497.7,1033.5 498.2,1035.8 498.7,1038.1 499.3,1040.4 499.8,1042.7 500.3,1045.0 500.8,1047.4 501.3,1049.7 501.9,1052.0 502.4,1054.4 502.9,1056.7 503.4,1059.0 504.0,1061.4 504.5,1063.7 505.0,1066.1 505.5,1068.4 506.0,1070.8 506.6,1073.2 507.1,1075.5 507.6,1077.9 508.1,1080.3 508.7,1082.6 509.2,1085.0 509.7,1087.4 510.2,1089.8 510.7,1092.2 511.3,1094.6 511.8,1097.0 512.3,1099.4 512.8,1101.8 513.4,1104.2 513.9,1106.6 514.4,1109.0 514.9,1111.4 515.4,1113.8 516.0,1116.3 516.5,1118.7 517.0,1121.1 517.5,1123.6 518.1,1126.0 518.6,1128.4 519.1,1130.9 519.6,1133.3 520.1,1135.8 520.7,1138.2 521.2,1140.7 521.7,1143.2 522.2,1145.6 522.8,1148.1 523.3,1150.6 523.8,1153.1 524.3,1155.5 524.9,1158.0 525.4,1160.5 525.9,1163.0 526.4,1165.5 526.9,1168.0 527.5,1170.5 528.0,1173.0 528.5,1175.5 529.0,1178.1 529.6,1180.6 530.1,1183.1 530.6,1185.6 531.1,1188.2 531.6,1190.7 532.2,1193.2 532.7,1195.8 533.2,1198.3 533.7,1200.9 534.3,1203.4 534.8,1206.0 535.3,1208.6 535.8,1211.1 536.3,1213.7 536.9,1216.3 537.4,1218.8 537.9,1221.4 538.4,1224.0 539.0,1226.6 539.5,1229.2 540.0,1231.8 540.5,1234.4 541.0,1237.0 541.6,1239.6 542.1,1242.2 542.6,1244.8 543.1,1247.5 543.7,1250.1 544.2,1252.7" stroke="#000" stroke-width="4.3" stroke-dasharray="17.1 17.1"/>
</g>
<line x1="126.5" y1="0" x2="126.5" y2="1216.9" stroke="#000" stroke-width="4.5"/>
<line x1="126.4" y1="1216.9" x2="1275.4" y2="1216.9" stroke="#000" stroke-width="4.3"/>
<line x1="115.2" y1="55.1" x2="124.3" y2="55.1" stroke="#333333" stroke-width="4"/>
<text x="106.8" y="68.1" text-anchor="end" font-family="'Liberation Serif', 'DejaVu Serif', serif" font-size="36.3" fill="#4D4D4D">1.0</text>
<line x1="115.2" y1="202.6" x2="124.3" y2="202.6" stroke="#333333" stroke-width="4"/>
<text x="106.8" y="215.6" text-anchor="end" font-family="'Liberation Serif', 'DejaVu Serif', serif" font-size="36.3" fill="#4D4D4D">0.8</text>
<line x1="115.2" y1="350.2" x2="124.3" y2="350.2" stroke="#333333" stroke-width="4"/>
<text x="106.8" y="363.2" text-anchor="end" font-family="'Liberation Serif', 'DejaVu Serif', serif" font-size="36.3" fill="#4D4D4D">0.6</text>
<line x1="115.2" y1="497.7" x2="124.3" y2="497.7" stroke="#333333" stroke-width="4"/>
<text x="106.8" y="510.7" text-anchor="end" font-family="'Liberation Serif', 'DejaVu Serif', serif" font-size="36.3" fill="#4D4D4D">0.4</text>
<line x1="115.2" y1="645.3" x2="124.3" y2="645.3" stroke="#333333" stroke-width="4"/>
<text x="106.8" y="658.3" text-anchor="end" font-family="'Liberation Serif', 'DejaVu Serif', serif" font-size="36.3" fill="#4D4D4D">0.2</text>
<line x1="115.2" y1="792.8" x2="124.3" y2="792.8" stroke="#333333" stroke-width="4"/>
<text x="106.8" y="805.8" text-anchor="end" font-family="'Liberation Serif', 'DejaVu Serif', serif" font-size="36.3" fill="#4D4D4D">0.0</text>
<line x1="115.2" y1="940.3" x2="124.3" y2="940.3" stroke="#333333" stroke-width="4"/>
<text x="106.8" y="953.3" text-anchor="end" font-family="'Liberation Serif', 'DejaVu Serif', serif" font-size="36.3" fill="#4D4D4D">-0.2</text>
<line x1="115.2" y1="1087.9" x2="124.3" y2="1087.9" stroke="#333333" stroke-width="4"/>
<text x="106.8" y="1100.9" text-anchor="end" font-family="'Liberation Serif', 'DejaVu Serif', serif" font-size="36.3" fill="#4D4D4D">-0.4</text>
<line x1="178.5" y1="1219.0" x2="178.5" y2="1227.6" stroke="#333333" stroke-width="4"/>
<text x="178.5" y="1261.5" text-anchor="middle" font-family="'Liberation Serif', 'DejaVu Serif', serif" font-size="36.3" fill="#4D4D4D" textLength="46.8" lengthAdjust="spacingAndGlyphs">0%</text>
<line x1="439.7" y1="1219.0" x2="439.7" y2="1227.6" stroke="#333333" stroke-width="4"/>
<text x="439.7" y="1261.5" text-anchor="middle" font-family="'Liberation Serif', 'DejaVu Serif', serif" font-size="36.3" fill="#4D4D4D" textLength="61.4" lengthAdjust="spacingAndGlyphs">25%</text>
<line x1="700.9" y1="1219.0" x2="700.9" y2="1227.6" stroke="#333333" stroke-width="4"/>
<text x="700.9" y="1261.5" text-anchor="middle" font-family="'Liberation Serif', 'DejaVu Serif', serif" font-size="36.3" fill="#4D4D4D" textLength="61.4" lengthAdjust="spacingAndGlyphs">50%</text>
<line x1="962.1" y1="1219.0" x2="962.1" y2="1227.6" stroke="#333333" stroke-width="4"/>
<text x="962.1" y="1261.5" text-anchor="middle" font-family="'Liberation Serif', 'DejaVu Serif', serif" font-size="36.3" fill="#4D4D4D" textLength="61.4" lengthAdjust="spacingAndGlyphs">75%</text>
<line x1="1223.3" y1="1219.0" x2="1223.3" y2="1227.6" stroke="#333333" stroke-width="4"/>
<text x="1223.3" y="1261.5" text-anchor="middle" font-family="'Liberation Serif', 'DejaVu Serif', serif" font-size="36.3" fill="#4D4D4D" textLength="79.9" lengthAdjust="spacingAndGlyphs">100%</text>
<text x="700.5" y="1310" text-anchor="middle" font-family="'Liberation Serif', 'DejaVu Serif', serif" font-size="46" fill="#000" textLength="271.3" lengthAdjust="spacing">Risk threshold</text>
<text transform="translate(31.8,608.6) rotate(-90)" x="0" y="0" text-anchor="middle" font-family="'Liberation Serif', 'DejaVu Serif', serif" font-size="46" fill="#000" textLength="478.4" lengthAdjust="spacing">Standardized Net Benefit</text>
<text x="1342.8" y="157.2" font-family="'Liberation Serif', 'DejaVu Serif', serif" font-size="46" fill="#000" textLength="115.2" lengthAdjust="spacingAndGlyphs">Model</text>
<rect x="1340.8" y="183.5" width="70" height="554" fill="#F2F2F2"/>
<line x1="1347.8" y1="218.2" x2="1403.7" y2="218.2" stroke="#00FF00" stroke-width="4.3"/>
<text x="1433.3" y="230.5" font-family="'Liberation Serif', 'DejaVu Serif', serif" font-size="37.1" fill="#000" textLength="136.9" lengthAdjust="spacingAndGlyphs">XGBoost</text>
<line x1="1347.8" y1="287.4" x2="1403.7" y2="287.4" stroke="#FFD700" stroke-width="4.3"/>
<text x="1433.3" y="299.8" font-family="'Liberation Serif', 'DejaVu Serif', serif" font-size="37.1" fill="#000" textLength="261.2" lengthAdjust="spacingAndGlyphs">Elastic regression</text>
<line x1="1347.8" y1="356.7" x2="1403.7" y2="356.7" stroke="#006400" stroke-width="4.3"/>
<text x="1433.3" y="369.0" font-family="'Liberation Serif', 'DejaVu Serif', serif" font-size="37.1" fill="#000" textLength="77.1" lengthAdjust="spacingAndGlyphs">SVM</text>
<line x1="1347.8" y1="425.9" x2="1403.7" y2="425.9" stroke="#FF00FF" stroke-width="4.3"/>
<text x="1433.3" y="438.2" font-family="'Liberation Serif', 'DejaVu Serif', serif" font-size="37.1" fill="#000" textLength="76.3" lengthAdjust="spacingAndGlyphs">KNN</text>
<line x1="1347.8" y1="495.2" x2="1403.7" y2="495.2" stroke="#FFC0CB" stroke-width="4.3"/>
<text x="1433.3" y="507.5" font-family="'Liberation Serif', 'DejaVu Serif', serif" font-size="37.1" fill="#000" textLength="221.7" lengthAdjust="spacing">Random forest</text>
<line x1="1347.8" y1="564.5" x2="1403.7" y2="564.5" stroke="#00FFFF" stroke-width="4.3"/>
<text x="1433.3" y="576.8" font-family="'Liberation Serif', 'DejaVu Serif', serif" font-size="37.1" fill="#000" textLength="276.9" lengthAdjust="spacingAndGlyphs">Logistic regression</text>
<line x1="1347.8" y1="633.7" x2="1403.7" y2="633.7" stroke="#191970" stroke-width="4.3"/>
<text x="1433.3" y="627.3" font-family="'Liberation Serif', 'DejaVu Serif', serif" font-size="37.1" fill="#000" textLength="259.5" lengthAdjust="spacing">Framingham risk</text>
<text x="1433.3" y="664.7" font-family="'Liberation Serif', 'DejaVu Serif', serif" font-size="37.1" fill="#000" textLength="224.5" lengthAdjust="spacing">model, original</text>
<line x1="1347.8" y1="703.0" x2="1403.7" y2="703.0" stroke="#FF0000" stroke-width="4.3"/>
<text x="1433.3" y="696.5" font-family="'Liberation Serif', 'DejaVu Serif', serif" font-size="37.1" fill="#000" textLength="259.5" lengthAdjust="spacing">Framingham risk</text>
<text x="1433.3" y="734.0" font-family="'Liberation Serif', 'DejaVu Serif', serif" font-size="37.1" fill="#000" textLength="289.4" lengthAdjust="spacing">model, recalibrated</text>
<text x="1342" y="861" font-family="'Liberation Serif', 'DejaVu Serif', serif" font-size="46" fill="#000" textLength="198.0" lengthAdjust="spacingAndGlyphs">References</text>
<rect x="1340.8" y="886.5" width="70" height="208" fill="#F2F2F2"/>
<line x1="1347.8" y1="921.2" x2="1403.7" y2="921.2" stroke="#000" stroke-width="4.3"/>
<text x="1433.3" y="933.5" font-family="'Liberation Serif', 'DejaVu Serif', serif" font-size="37.1" fill="#000" textLength="169.7" lengthAdjust="spacing">Treat none</text>
<line x1="1347.8" y1="990.4" x2="1403.7" y2="990.4" stroke="#000" stroke-width="4.3" stroke-dasharray="4.28 12.84"/>
<text x="1433.3" y="1002.7" font-family="'Liberation Serif', 'DejaVu Serif', serif" font-size="37.1" fill="#000" textLength="317.0" lengthAdjust="spacing">High normal BP rule</text>
<line x1="1347.8" y1="1059.6" x2="1403.7" y2="1059.6" stroke="#000" stroke-width="4.3" stroke-dasharray="17.1 17.1"/>
<text x="1433.3" y="1071.9" font-family="'Liberation Serif', 'DejaVu Serif', serif" font-size="37.1" fill="#000" textLength="133.6" lengthAdjust="spacing">Treat all</text>
</svg>
</body></html>
